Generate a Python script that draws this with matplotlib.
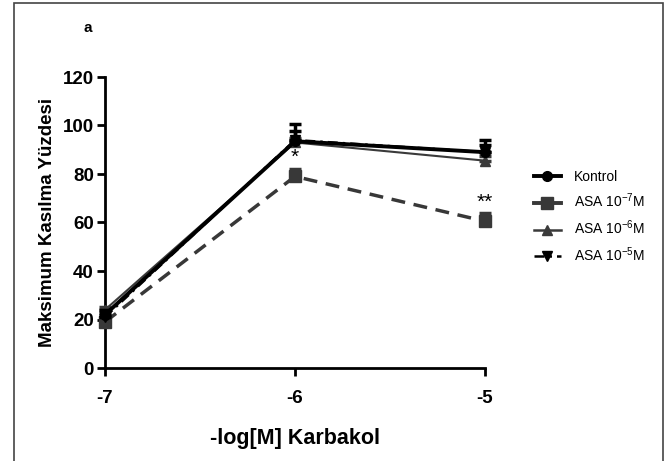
import matplotlib.pyplot as plt
from matplotlib.patches import Rectangle
from matplotlib.lines import Line2D

plt.rcParams['font.family'] = ['Liberation Sans', 'DejaVu Sans']
plt.rcParams['mathtext.fontset'] = 'custom'
plt.rcParams['mathtext.rm'] = 'Liberation Sans'

# Data
doses = [-7, -6, -5]
kontrol = [22, 93.5, 89]
kontrol_err = [2, 7, 5]
asa7 = [19, 79, 60.5]
asa7_err = [1.5, 3, 3.5]
asa6 = [24, 93, 85.5]
asa6_err = [1, 2, 2]
asa5 = [21, 94, 89]
asa5_err = [1.5, 3.7, 3]

fig = plt.figure(figsize=(6.69, 4.61), dpi=100)
ax = fig.add_axes([105 / 669, 1 - 368 / 461, 380 / 669, 291 / 461])

# figure border
fig.patches.append(Rectangle((14 / 669, -0.05), (663 - 14) / 669, 1 - 3 / 461 + 0.05,
                             transform=fig.transFigure, fill=False,
                             edgecolor='#444444', linewidth=1.2))

def up(err):
    return [[0] * len(err), err]

ax.errorbar(doses, asa6, yerr=up(asa6_err), color='#3a3a3a', lw=1.5, marker='^', ms=7,
            capsize=4, capthick=2.5, elinewidth=2.5, clip_on=False, zorder=3)
ax.errorbar(doses, asa7, yerr=up(asa7_err), color='#383838', lw=2.5, ls=(0, (4, 2.5)), marker='s', ms=8,
            capsize=4, capthick=2.5, elinewidth=2.5, clip_on=False, zorder=3)
ax.errorbar(doses, asa5, yerr=up(asa5_err), color='black', lw=1.8, ls=(0, (4, 2, 1, 2)), marker='v', ms=7,
            capsize=4, capthick=2.5, elinewidth=2.5, clip_on=False, zorder=4)
ax.errorbar(doses, kontrol, yerr=up(kontrol_err), color='black', lw=2.8, marker='o', ms=7,
            capsize=4, capthick=2.5, elinewidth=2.5, clip_on=False, zorder=5)

# significance marks
ax.text(-6, asa7[1] + asa7_err[1] + 1.0, '*', ha='center', va='bottom', fontsize=15)
ax.text(-5, asa7[2] + asa7_err[2] + 0.5, '**', ha='center', va='bottom', fontsize=15)

ax.set_xlim(-7, -5)
ax.set_ylim(0, 120)
ax.set_xticks([-7, -6, -5])
ax.set_xticklabels(['-7', '-6', '-5'])
ax.set_yticks(range(0, 121, 20))
for s in ['top', 'right']:
    ax.spines[s].set_visible(False)
for s in ['left', 'bottom']:
    ax.spines[s].set_linewidth(2)
ax.tick_params(width=2, length=6, labelsize=13.5)
for lab in ax.get_xticklabels() + ax.get_yticklabels():
    lab.set_fontweight('bold')
ax.tick_params(axis='x', pad=10)
ax.tick_params(axis='y', pad=2)

ax.set_xlabel('-log[M] Karbakol', fontsize=15.5, fontweight='bold', labelpad=15)
ax.set_ylabel('Maksimum Kasılma Yüzdesi', fontsize=13.5, fontweight='bold', labelpad=5)

fig.text(84 / 669, 1 - 28 / 461, 'a', fontsize=11, fontweight='bold', ha='left', va='center')

handles = [
    Line2D([], [], color='black', lw=2.8, marker='o', ms=7),
    Line2D([], [], color='#383838', lw=2.8, marker='s', ms=8),
    Line2D([], [], color='#3a3a3a', lw=1.8, marker='^', ms=7),
    Line2D([], [], color='black', lw=1.8, ls=(0, (4, 2, 1, 2)), marker='v', ms=7),
]
labels = ['Kontrol', 'ASA 10$^{-7}$M', 'ASA 10$^{-6}$M', 'ASA 10$^{-5}$M']
ax.legend(handles, labels, loc='upper left', bbox_to_anchor=(1.095, 0.725), frameon=False,
          fontsize=10, handlelength=2.0, labelspacing=0.6, handletextpad=0.9)

fig.savefig('out.png', dpi=100)
